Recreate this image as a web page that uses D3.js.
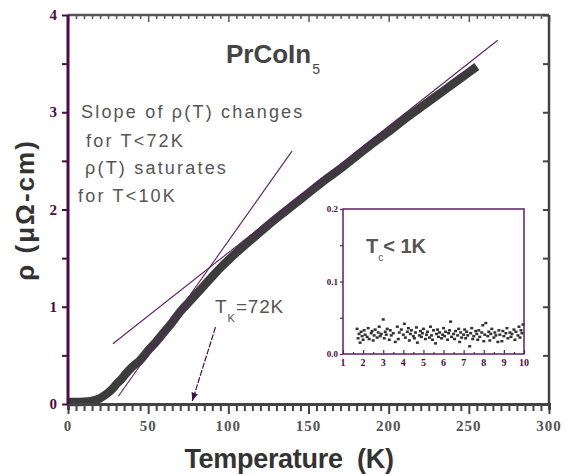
<!DOCTYPE html>
<html><head><meta charset="utf-8">
<script src="https://cdn.jsdelivr.net/npm/d3@7"></script>
<style>body{margin:0;background:#fff}svg{display:block}</style>
</head><body>
<svg id="c" width="566" height="474"></svg>
<script>
// ---- data ----
const tempK = [0,5,10,14,17,20,22,25,28,30,33,36,40,45,50,55,60,65,70,75,80,85,90,95,100,110,120,130,140,150,160,170,180,190,200,210,220,230,240,250,255];
const rhoMain = [0.02,0.02,0.022,0.028,0.04,0.06,0.08,0.115,0.16,0.2,0.25,0.31,0.38,0.45,0.55,0.64,0.74,0.84,0.95,1.04,1.13,1.22,1.31,1.40,1.48,1.63,1.77,1.91,2.04,2.17,2.30,2.42,2.55,2.68,2.80,2.93,3.05,3.17,3.29,3.41,3.47];
const fitHighT = [28,268], fitHighRho = [0.62,3.74];
const fitLowT = [31.4,139.7], fitLowRho = [0.08,2.60];
const arrowT = [92,77.5], arrowRho = [0.79,0.03];
const xTicks = [0,50,100,150,200,250,300];
const yTicks = [0,1,2,3,4];
const insetXTicks = [1,2,3,4,5,6,7,8,9,10];
const insetYTicks = [0.0,0.1,0.2];
const insetT = [1.7,1.75,1.8,1.85,1.9,1.95,2.0,2.05,2.1,2.2,2.25,2.3,2.4,2.45,2.5,2.55,2.6,2.7,2.75,2.8,2.85,2.9,3.0,3.05,3.1,3.15,3.2,3.3,3.35,3.4,3.5,3.6,3.7,3.75,3.8,3.9,4.0,4.05,4.1,4.2,4.25,4.3,4.35,4.4,4.5,4.55,4.6,4.65,4.7,4.8,4.85,4.9,4.95,5.0,5.1,5.15,5.2,5.3,5.35,5.4,5.45,5.5,5.6,5.65,5.7,5.75,5.8,5.9,5.95,6.0,6.05,6.1,6.2,6.25,6.3,6.35,6.4,6.5,6.55,6.6,6.7,6.75,6.8,6.85,6.9,7.0,7.05,7.1,7.15,7.2,7.3,7.35,7.4,7.45,7.5,7.6,7.65,7.7,7.75,7.8,7.9,7.95,8.0,8.05,8.1,8.2,8.25,8.3,8.35,8.4,8.5,8.55,8.6,8.7,8.75,8.8,8.9,8.95,9.0,9.1,9.15,9.2,9.3,9.35,9.4,9.5,9.55,9.6,9.7,9.75,9.8,9.85,9.9,9.95];
const insetRho = [0.035,0.022,0.028,0.016,0.031,0.025,0.02,0.033,0.027,0.024,0.036,0.021,0.029,0.032,0.019,0.026,0.034,0.023,0.03,0.038,0.025,0.028,0.048,0.022,0.031,0.027,0.035,0.02,0.033,0.026,0.029,0.017,0.038,0.021,0.03,0.034,0.027,0.042,0.023,0.031,0.036,0.019,0.028,0.033,0.025,0.022,0.03,0.037,0.016,0.026,0.032,0.024,0.029,0.035,0.021,0.027,0.031,0.023,0.038,0.026,0.02,0.033,0.015,0.028,0.034,0.024,0.03,0.022,0.027,0.036,0.025,0.031,0.02,0.029,0.033,0.045,0.024,0.028,0.021,0.032,0.026,0.035,0.017,0.03,0.023,0.027,0.034,0.022,0.031,0.026,0.011,0.029,0.036,0.021,0.025,0.032,0.028,0.02,0.033,0.024,0.03,0.04,0.018,0.027,0.043,0.025,0.031,0.019,0.028,0.035,0.023,0.03,0.026,0.017,0.033,0.027,0.018,0.032,0.025,0.029,0.036,0.022,0.03,0.024,0.028,0.034,0.02,0.031,0.026,0.038,0.023,0.033,0.029,0.041];

// ---- drawing ----
const svg = d3.select('#c');
const purple = '#4a0a4a', lpurple = '#5e1e66', gray = '#444', tgray = '#555';
const x = d3.scaleLinear([0,300],[68,549]);
const y = d3.scaleLinear([0,4],[404,15]);

// main curve
const mainData = tempK.map((t,i)=>[t,rhoMain[i]]);
svg.append('path').datum(mainData)
  .attr('d', d3.line().x(d=>x(d[0])).y(d=>y(d[1])).curve(d3.curveMonotoneX))
  .attr('fill','none').attr('stroke','#3c3c3c').attr('stroke-width',8.5).attr('stroke-linecap','butt');

// fit lines
function seg(ts, rs){ return ts.map((t,i)=>[t,rs[i]]); }
[[fitHighT,fitHighRho],[fitLowT,fitLowRho]].forEach(([ts,rs])=>{
  svg.append('path').datum(seg(ts,rs)).attr('d', d3.line().x(d=>x(d[0])).y(d=>y(d[1])))
    .attr('fill','none').attr('stroke',lpurple).attr('stroke-width',1.1);
});

// arrow
svg.append('defs').append('marker').attr('id','ah').attr('viewBox','0 0 10 10')
  .attr('refX',10).attr('refY',5).attr('markerWidth',7).attr('markerHeight',7).attr('orient','auto')
  .append('path').attr('d','M0,1L10,5L0,9z').attr('fill',purple);
svg.append('path').datum(seg(arrowT,arrowRho)).attr('d', d3.line().x(d=>x(d[0])).y(d=>y(d[1])))
  .attr('fill','none').attr('stroke',purple).attr('stroke-width',1.2).attr('stroke-dasharray','6,1.5')
  .attr('marker-end','url(#ah)');

// axes
const minorX = d3.range(0,301,5), minorY = d3.range(0,4.01,0.5);
// bottom
const bAx = svg.append('g').attr('transform','translate(0,404)')
  .call(d3.axisBottom(x).tickValues(minorX).tickSize(6).tickFormat(''));
bAx.selectAll('.tick line').attr('stroke',gray).attr('stroke-width',2)
  .attr('y2',d=>d%50===0?10:7);
bAx.select('.domain').attr('stroke',gray).attr('stroke-width',3);
// bottom labels
svg.append('g').selectAll('text').data(xTicks).join('text')
  .attr('x',d=>x(d)).attr('y',431).attr('text-anchor','middle')
  .attr('font-family','Liberation Serif, serif').attr('font-weight','bold').attr('font-size',15)
  .attr('letter-spacing',1).attr('fill',tgray).text(d=>d);
// top
const tAx = svg.append('g').attr('transform','translate(0,15)')
  .call(d3.axisBottom(x).tickValues(minorX).tickSize(4).tickFormat(''));
tAx.selectAll('.tick line').attr('stroke',tgray).attr('stroke-width',1.5).attr('y2',d=>d%50===0?7:4);
tAx.select('.domain').attr('stroke',tgray).attr('stroke-width',2.5).attr('d','M68,0H549');
// right
const rAx = svg.append('g').attr('transform','translate(549,0)')
  .call(d3.axisLeft(y).tickValues(minorY).tickSize(6).tickFormat(''));
rAx.selectAll('.tick line').attr('stroke',gray).attr('stroke-width',2);
rAx.select('.domain').attr('stroke',gray).attr('stroke-width',2.5).attr('d','M0,15V404');
// left
const lAx = svg.append('g').attr('transform','translate(68,0)')
  .call(d3.axisLeft(y).tickValues(minorY).tickSize(6).tickFormat(''));
lAx.selectAll('.tick line').attr('stroke',purple).attr('stroke-width',2);
lAx.select('.domain').attr('stroke',purple).attr('stroke-width',3).attr('d','M0,15V404');
svg.append('g').selectAll('text').data(yTicks).join('text')
  .attr('x',57).attr('y',d=>y(d)+5).attr('text-anchor','end')
  .attr('font-family','Liberation Serif, serif').attr('font-weight','bold').attr('font-size',15)
  .attr('fill',purple).text(d=>d);

// axis titles
svg.append('text').attr('x',289).attr('y',468).attr('text-anchor','middle')
  .attr('font-family','Liberation Sans, Arial, sans-serif').attr('font-weight','bold').attr('font-size',27)
  .attr('fill','#333').attr('letter-spacing',-0.3).style('white-space','pre').text('Temperature  (K)');
svg.append('text').attr('transform','translate(34,210) rotate(-90)').attr('text-anchor','middle')
  .attr('font-family','Liberation Sans, Arial, sans-serif').attr('font-weight','bold').attr('font-size',26)
  .attr('fill','#333').attr('letter-spacing',2).style('white-space','pre').text('ρ (μΩ-cm)');

// title
const tt = svg.append('text').attr('x',226).attr('y',63)
  .attr('font-family','Liberation Sans, Arial, sans-serif').attr('fill','#444');
tt.append('tspan').attr('font-weight','bold').attr('font-size',26).text('PrCoIn');
tt.append('tspan').attr('font-size',14).attr('dy',11).attr('dx',1).text('5');

// annotation
const ann = [['Slope of ρ(T) changes',81,118],['for T<72K',86,147],['ρ(T) saturates',85,174],['for T<10K',78,202]];
svg.append('g').selectAll('text').data(ann).join('text')
  .attr('x',d=>d[1]).attr('y',d=>d[2])
  .attr('font-family','Liberation Sans, Arial, sans-serif').attr('font-size',18).attr('letter-spacing',2.2)
  .attr('fill',tgray).text(d=>d[0]);

// T_K label
const tk = svg.append('text').attr('x',215).attr('y',313)
  .attr('font-family','Liberation Sans, Arial, sans-serif').attr('font-size',19).attr('fill',tgray);
tk.append('tspan').text('T');
tk.append('tspan').attr('font-size',11).attr('dy',9).attr('dx',1).text('K');
tk.append('tspan').attr('dy',-9).attr('dx',1).attr('letter-spacing',0.8).text('=72K');

// inset
const xi = d3.scaleLinear([1,10],[343,524]);
const yi = d3.scaleLinear([0,0.2],[354,209]);
svg.append('rect').attr('x',343).attr('y',209).attr('width',181).attr('height',145)
  .attr('fill','#fff').attr('stroke',lpurple).attr('stroke-width',1.5);
const ib = svg.append('g').attr('transform','translate(0,354)')
  .call(d3.axisTop(xi).tickValues(d3.range(1,10.01,0.5)).tickSize(3).tickFormat(''));
ib.selectAll('.tick line').attr('stroke',lpurple).attr('stroke-width',1.2).attr('y2',d=>d%1===0?-4:-2);
ib.select('.domain').remove();
const il = svg.append('g').attr('transform','translate(343,0)')
  .call(d3.axisLeft(yi).tickValues([0,0.05,0.1,0.15,0.2]).tickSize(3).tickFormat(''));
il.selectAll('.tick line').attr('stroke',lpurple).attr('stroke-width',1.2);
il.select('.domain').remove();
svg.append('g').selectAll('text').data(insetXTicks).join('text')
  .attr('x',d=>xi(d)).attr('y',366).attr('text-anchor','middle')
  .attr('font-family','Liberation Serif, serif').attr('font-weight','bold').attr('font-size',10)
  .attr('fill',purple).text(d=>d);
svg.append('g').selectAll('text').data(insetYTicks).join('text')
  .attr('x',338).attr('y',d=>yi(d)+3).attr('text-anchor','end')
  .attr('font-family','Liberation Serif, serif').attr('font-weight','bold').attr('font-size',9)
  .attr('fill',purple).text(d=>d.toFixed(1));
const n = Math.min(insetT.length, insetRho.length);
svg.append('g').selectAll('rect').data(d3.range(n)).join('rect')
  .attr('x',i=>xi(insetT[i])-1.5).attr('y',i=>yi(insetRho[i])-1).attr('width',3).attr('height',2.5)
  .attr('fill','#333');
const tc = svg.append('text').attr('x',366).attr('y',253)
  .attr('font-family','Liberation Sans, Arial, sans-serif').attr('font-weight','bold').attr('font-size',20).attr('fill','#555');
tc.append('tspan').text('T');
tc.append('tspan').attr('font-size',10).attr('dy',8).attr('font-weight','normal').text('c');
tc.append('tspan').attr('dy',-8).text('< 1K');
</script>
</body></html>
